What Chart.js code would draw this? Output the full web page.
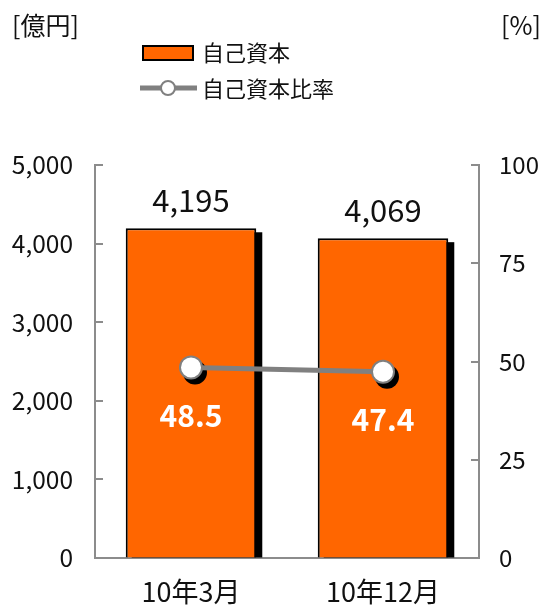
<!DOCTYPE html>
<html>
<head>
<meta charset="utf-8">
<script src="https://cdn.jsdelivr.net/npm/chart.js@4/dist/chart.umd.min.js"></script>
<style>
  html, body { margin: 0; padding: 0; background: #fff; }
</style>
</head>
<body>
<canvas id="equityChart" width="552" height="606"></canvas>
<script>
const categories = ["10年3月", "10年12月"];
const equity = [4195, 4069];          // 自己資本 [億円]
const equityRatio = [48.5, 47.4];     // 自己資本比率 [%]
const equityTicks = [0, 1000, 2000, 3000, 4000, 5000];
const ratioTicks = [0, 25, 50, 75, 100];

const FONT = "'Noto Sans CJK JP', 'Noto Sans', sans-serif";
const ORANGE = "#ff6600";
const GREY = "#808080";
const AXIS = "#8c8c8c";

// black drop shadows behind the bars and the ratio markers
const shadows = {
    id: "shadows",
    beforeDatasetDraw(chart, args) {
        const ctx = chart.ctx;
        const meta = args.meta;
        ctx.save();
        ctx.fillStyle = "#000";
        if (meta.type === "bar") {
            meta.data.forEach(bar => {
                ctx.fillRect(bar.x - bar.width / 2 + 6, bar.y + 4, bar.width, bar.base - bar.y - 4);
            });
        } else {
            meta.data.forEach(pt => {
                ctx.beginPath();
                ctx.arc(pt.x + 4, pt.y + 5, 12, 0, Math.PI * 2);
                ctx.fill();
            });
        }
        ctx.restore();
    }
};

// value labels, inward ticks, unit labels and the legend
const decorations = {
    id: "decorations",
    afterDraw(chart) {
        const ctx = chart.ctx;
        const area = chart.chartArea;
        const yL = chart.scales.y;
        const yR = chart.scales.y1;
        ctx.save();

        ctx.strokeStyle = AXIS;
        ctx.lineWidth = 2;
        ctx.beginPath();
        equityTicks.forEach(v => {
            const py = Math.round(yL.getPixelForValue(v));
            ctx.moveTo(area.left, py);
            ctx.lineTo(area.left + 8, py);
        });
        ratioTicks.forEach(v => {
            const py = Math.round(yR.getPixelForValue(v));
            ctx.moveTo(area.right - 8, py);
            ctx.lineTo(area.right, py);
        });
        ctx.stroke();

        // bar values
        ctx.textAlign = "center";
        ctx.textBaseline = "middle";
        ctx.fillStyle = "#111";
        ctx.font = "31px " + FONT;
        chart.getDatasetMeta(1).data.forEach((bar, i) => {
            ctx.fillText(equity[i].toLocaleString("en-US"), bar.x, bar.y - 28);
        });

        // ratio values
        ctx.fillStyle = "#fff";
        ctx.font = "bold 30px " + FONT;
        chart.getDatasetMeta(0).data.forEach((pt, i) => {
            ctx.fillText(equityRatio[i].toFixed(1), pt.x, pt.y + 48);
        });

        // units
        ctx.fillStyle = "#111";
        ctx.font = "25px " + FONT;
        ctx.textAlign = "left";
        ctx.fillText("[億円]", 12, 25);
        ctx.textAlign = "right";
        ctx.fillText("[%]", 541, 25);

        // legend
        ctx.fillStyle = ORANGE;
        ctx.fillRect(143, 46, 50, 14);
        ctx.strokeStyle = "#000";
        ctx.lineWidth = 2;
        ctx.strokeRect(143, 46, 50, 14);

        ctx.strokeStyle = GREY;
        ctx.lineWidth = 5;
        ctx.beginPath();
        ctx.moveTo(140, 88);
        ctx.lineTo(197, 88);
        ctx.stroke();
        ctx.beginPath();
        ctx.arc(168, 88, 7, 0, Math.PI * 2);
        ctx.fillStyle = "#fff";
        ctx.fill();
        ctx.lineWidth = 2;
        ctx.stroke();

        ctx.fillStyle = "#111";
        ctx.font = "22px " + FONT;
        ctx.textAlign = "left";
        ctx.fillText("自己資本", 202, 53);
        ctx.fillText("自己資本比率", 202, 89);

        ctx.restore();
    }
};

new Chart(document.getElementById("equityChart"), {
    data: {
        labels: categories,
        datasets: [
            {
                type: "line",
                label: "自己資本比率",
                data: equityRatio,
                yAxisID: "y1",
                order: 0,
                borderColor: GREY,
                borderWidth: 5,
                pointRadius: 11,
                pointBorderWidth: 2,
                pointBackgroundColor: "#fff",
                pointBorderColor: GREY,
                fill: false,
                tension: 0
            },
            {
                type: "bar",
                label: "自己資本",
                data: equity,
                yAxisID: "y",
                order: 1,
                backgroundColor: ORANGE,
                borderColor: "#000",
                borderWidth: 2,
                borderSkipped: "bottom",
                categoryPercentage: 1,
                barPercentage: 0.68
            }
        ]
    },
    options: {
        responsive: false,
        animation: false,
        devicePixelRatio: 1,
        layout: { padding: { top: 165, left: 0, right: 0, bottom: 0 } },
        plugins: {
            legend: { display: false },
            tooltip: { enabled: false }
        },
        scales: {
            x: {
                grid: { drawOnChartArea: false, drawTicks: false },
                border: { color: AXIS, width: 2 },
                ticks: { color: "#111", font: { family: FONT, size: 27 }, padding: 18 },
                afterFit: s => { s.height = 48; }
            },
            y: {
                position: "left",
                min: 0,
                max: 5000,
                grid: { drawOnChartArea: false, drawTicks: false },
                border: { color: AXIS, width: 2 },
                ticks: {
                    stepSize: 1000,
                    color: "#111",
                    padding: 22,
                    font: { family: FONT, size: 24.5 },
                    callback: v => v.toLocaleString("en-US")
                },
                afterFit: s => { s.width = 95; }
            },
            y1: {
                position: "right",
                min: 0,
                max: 100,
                grid: { drawOnChartArea: false, drawTicks: false },
                border: { color: AXIS, width: 2 },
                ticks: {
                    stepSize: 25,
                    color: "#111",
                    padding: 20,
                    font: { family: FONT, size: 24 }
                },
                afterFit: s => { s.width = 73; }
            }
        }
    },
    plugins: [shadows, decorations]
});
</script>
</body>
</html>
